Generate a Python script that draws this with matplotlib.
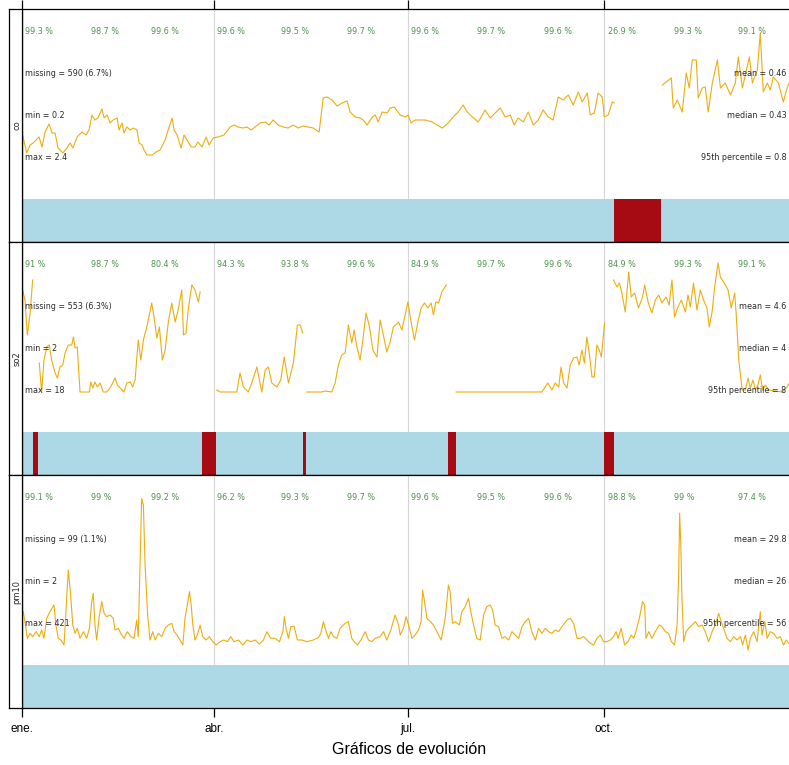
import numpy as np
import pandas as pd
import matplotlib
matplotlib.use('Agg')
import matplotlib.pyplot as plt
import matplotlib.dates as mdates

nan = np.nan

# daily means: (day of year counted from 1 Jan, value)
co_daily = [(0.3, 0.40), (2.2, 0.31), (3.8, 0.35), (5.2, 0.36), (6.6, 0.375), (8.0, 0.39), (9.4, 0.34),
            (10.8, 0.415), (12.7, 0.455), (14.1, 0.41), (15.5, 0.41), (16.9, 0.335), (19.2, 0.31), (21.1, 0.335),
            (22.5, 0.36), (23.9, 0.335), (25.8, 0.39), (28.1, 0.415), (30.0, 0.40), (31.4, 0.425), (32.8, 0.50),
            (34.2, 0.475), (35.6, 0.485), (37.5, 0.53), (38.5, 0.485), (39.9, 0.50), (41.3, 0.46), (42.7, 0.475),
            (44.6, 0.485), (45.5, 0.425), (46.9, 0.46), (47.8, 0.41), (49.2, 0.44), (50.7, 0.425), (52.1, 0.435),
            (53.9, 0.425), (54.9, 0.36), (56.3, 0.35), (57.2, 0.325), (58.6, 0.30), (61.0, 0.30), (62.8, 0.315),
            (64.7, 0.325), (67.1, 0.375), (68.5, 0.425), (70.4, 0.485), (71.3, 0.425), (72.7, 0.40), (74.6, 0.335),
            (76.0, 0.40), (77.4, 0.375), (79.3, 0.34), (81.1, 0.34), (82.5, 0.365), (84.4, 0.34), (86.3, 0.39),
            (87.7, 0.35), (89.6, 0.385), (91.9, 0.39), (94.7, 0.40), (97.6, 0.44), (99.4, 0.45), (101.3, 0.44),
            (103.6, 0.435), (105.5, 0.44), (107.4, 0.425), (109.3, 0.44), (111.6, 0.46), (114.0, 0.465),
            (115.8, 0.45), (117.7, 0.475), (120.1, 0.45), (122.4, 0.44), (124.8, 0.435), (127.1, 0.45),
            (129.4, 0.435), (131.8, 0.445), (134.1, 0.44), (136.5, 0.435), (139.3, 0.415), (141.2, 0.585),
            (143.0, 0.59), (145.4, 0.575), (147.7, 0.545), (150.1, 0.56), (152.4, 0.57), (153.8, 0.515),
            (156.2, 0.49), (158.5, 0.485), (159.9, 0.475), (161.8, 0.45), (164.2, 0.49), (165.6, 0.50),
            (167.0, 0.465), (168.8, 0.515), (171.2, 0.51), (172.6, 0.535), (174.5, 0.54), (176.3, 0.515),
            (177.3, 0.50), (179.6, 0.49), (181.0, 0.50), (182.4, 0.46), (184.3, 0.475), (186.7, 0.475),
            (189.0, 0.475), (192.3, 0.465), (194.6, 0.45), (197.0, 0.435), (199.8, 0.46), (202.1, 0.49),
            (204.5, 0.515), (206.8, 0.55), (208.7, 0.515), (211.1, 0.49), (213.9, 0.465), (217.1, 0.525),
            (219.5, 0.485), (221.8, 0.51), (224.2, 0.535), (226.5, 0.49), (228.9, 0.50), (230.7, 0.45),
            (232.6, 0.485), (235.0, 0.465), (237.3, 0.515), (239.7, 0.45), (242.0, 0.475), (244.3, 0.525),
            (246.7, 0.49), (249.0, 0.475), (251.4, 0.59), (253.7, 0.575), (256.1, 0.60), (258.4, 0.55),
            (260.8, 0.615), (262.6, 0.565), (265.0, 0.61), (266.4, 0.50), (268.3, 0.51), (270.1, 0.61),
            (272.0, 0.59), (273.0, 0.49), (274.8, 0.50), (276.7, 0.565), (277.6, 0.56), (288.0, nan),
            (300.2, 0.65), (304.4, 0.685), (305.3, 0.535), (307.2, 0.575), (309.5, 0.515), (311.4, 0.71),
            (312.8, 0.635), (314.2, 0.775), (316.1, 0.775), (317.0, 0.585), (318.9, 0.635), (320.3, 0.64),
            (321.7, 0.515), (323.6, 0.66), (326.0, 0.775), (327.4, 0.635), (329.7, 0.66), (332.1, 0.60),
            (334.4, 0.66), (335.8, 0.79), (337.7, 0.635), (339.1, 0.70), (341.0, 0.79), (342.4, 0.66),
            (344.7, 0.725), (346.1, 0.91), (347.5, 0.615), (349.4, 0.66), (350.8, 0.625), (352.2, 0.69),
            (354.6, 0.66), (356.9, 0.565), (358.8, 0.64), (359.7, 0.66), (362.5, 0.62), (364.5, 0.66)]

so2_daily = [(0.3, 7.1), (1.4, 6.6), (2.5, 4.85), (3.8, 5.95), (5.0, 7.6), (6.5, nan), (8.1, 3.45), (9.2, 2.0),
             (10.3, 3.6), (11.6, 4.25), (12.8, 4.35), (13.9, 3.6), (15.5, 2.95), (16.6, 2.7), (17.8, 3.25),
             (19.1, 3.35), (20.2, 3.95), (21.7, 4.35), (23.3, 4.35), (24.1, 4.75), (24.9, 4.2), (25.9, 4.25),
             (27.2, 2.0), (28.8, 2.0), (31.6, 2.0), (32.2, 2.5), (33.2, 2.2), (34.2, 2.5), (35.3, 2.25),
             (36.6, 2.45), (38.1, 2.0), (39.7, 2.0), (41.6, 2.25), (43.6, 2.7), (44.7, 2.35), (46.0, 2.2),
             (47.8, 2.0), (49.1, 2.45), (50.7, 2.5), (51.9, 2.25), (53.0, 2.6), (54.5, 4.6), (55.7, 3.6),
             (56.9, 4.6), (58.5, 5.25), (60.8, 6.45), (61.9, 5.75), (63.2, 4.7), (64.4, 5.25), (65.8, 3.6),
             (67.1, 4.1), (68.6, 5.5), (70.2, 6.45), (71.8, 5.5), (73.0, 6.0), (74.9, 7.1), (75.7, 4.85),
             (76.9, 4.95), (78.0, 6.2), (79.6, 7.35), (81.1, 7.1), (82.7, 6.5), (83.5, 7.0), (87.0, nan),
             (91.3, 2.1), (92.9, 2.0), (99.1, 2.0), (100.7, 2.0), (102.2, 2.95), (103.8, 2.25), (106.1, 2.0),
             (107.7, 2.45), (110.1, 3.25), (112.4, 2.0), (114.0, 3.1), (115.5, 3.25), (117.1, 2.45),
             (119.5, 2.25), (121.3, 2.6), (122.9, 3.75), (124.9, 2.45), (127.2, 3.45), (129.1, 5.35),
             (130.4, 5.35), (131.6, 4.95), (132.5, nan), (133.5, 2.0), (140.6, 2.0), (142.1, 2.05), (145.2, 2.0),
             (146.8, 2.45), (148.3, 3.35), (149.9, 3.85), (151.5, 3.95), (153.0, 5.35), (154.6, 4.45),
             (155.7, 5.1), (157.0, 4.25), (158.5, 3.6), (159.8, 4.6), (161.3, 5.95), (162.9, 5.25), (164.5, 4.1),
             (166.4, 3.75), (167.9, 5.6), (169.2, 4.95), (171.0, 4.0), (172.6, 4.5), (174.1, 5.25), (176.5, 5.5),
             (178.1, 5.1), (179.6, 5.85), (180.9, 6.5), (182.4, 5.5), (184.0, 4.6), (185.6, 5.5), (187.1, 6.2),
             (188.7, 6.45), (190.3, 6.2), (191.8, 6.45), (192.9, 5.85), (194.0, 6.5), (195.3, 6.45),
             (196.8, 7.0), (198.9, 7.35), (201.0, nan), (203.5, 2.0), (243.7, 2.0), (246.5, 2.45), (248.4, 2.1),
             (250.0, 2.45), (251.6, 2.25), (252.7, 3.25), (253.9, 2.45), (255.5, 2.2), (257.0, 3.35),
             (258.6, 3.7), (260.2, 3.75), (261.2, 3.35), (262.5, 4.1), (263.6, 3.45), (264.8, 4.75),
             (265.9, 3.95), (267.2, 2.75), (268.3, 2.75), (269.5, 4.35), (270.6, 4.1), (271.6, 3.75),
             (273.1, 5.45), (275.0, nan), (277.3, 7.6), (278.9, 7.25), (280.1, 7.45), (281.2, 6.95), (282.8, 6.0),
             (284.4, 8.0), (285.6, 6.75), (287.2, 6.95), (289.0, 6.2), (290.9, 6.75), (291.9, 7.35), (293.5, 6.5),
             (295.3, 5.95), (296.9, 6.6), (298.5, 6.85), (300.0, 6.45), (301.9, 6.75), (303.4, 6.35),
             (304.7, 7.6), (305.9, 5.75), (307.5, 6.25), (309.1, 6.6), (311.0, 6.0), (312.2, 6.85), (313.3, 6.25),
             (314.8, 7.45), (316.4, 6.1), (318.0, 7.1), (319.5, 6.6), (321.1, 6.2), (322.2, 5.25), (323.5, 6.0),
             (324.7, 7.25), (326.3, 8.45), (327.4, 7.75), (328.9, 7.5), (331.0, 7.1), (332.5, 6.2), (334.1, 6.95),
             (334.9, 5.75), (336.0, 3.6), (337.6, 2.1), (339.1, 2.1), (340.4, 2.7), (341.4, 2.2), (342.7, 2.6),
             (343.8, 2.1), (345.0, 2.35), (346.1, 2.85), (347.2, 2.1), (348.5, 2.35), (350.0, 2.1), (353.2, 2.05),
             (356.3, 2.0), (358.7, 2.25), (359.7, 2.45), (362.0, 2.8), (364.5, 3.0)]

pm10_daily = [(0.6, 64), (1.4, 52), (2.5, 32), (3.8, 38), (5.0, 34), (6.6, 40), (8.1, 34), (9.2, 42), (10.3, 32),
              (11.6, 56), (13.1, 64), (15.0, 72), (15.9, 48), (17.0, 32), (18.2, 30), (19.7, 24), (20.6, 64),
              (21.7, 114), (22.8, 84), (23.8, 48), (24.9, 38), (25.9, 44), (27.2, 32), (28.8, 40), (30.3, 32),
              (31.6, 44), (32.7, 76), (33.4, 86), (34.2, 48), (35.0, 30), (36.1, 56), (37.4, 76), (38.5, 62),
              (39.7, 58), (41.3, 60), (42.8, 56), (43.6, 42), (45.2, 44), (46.3, 38), (47.8, 32), (49.4, 40),
              (51.0, 34), (52.5, 32), (53.8, 54), (54.5, 34), (55.3, 118), (56.1, 200), (56.9, 192), (57.7, 120),
              (58.9, 60), (60.0, 30), (61.3, 40), (62.4, 30), (63.9, 38), (65.5, 34), (67.1, 44), (68.6, 48),
              (70.2, 50), (71.3, 40), (72.6, 36), (74.1, 30), (75.4, 24), (76.4, 56), (77.5, 72), (78.5, 88),
              (79.3, 72), (80.1, 48), (81.1, 30), (82.2, 36), (83.5, 48), (84.7, 34), (86.3, 30), (87.8, 34),
              (89.4, 28), (91.0, 24), (92.9, 28), (94.7, 30), (96.3, 28), (97.9, 34), (99.4, 28), (101.5, 30),
              (103.5, 24), (105.4, 30), (107.3, 28), (109.3, 30), (111.3, 25), (113.2, 30), (114.8, 40),
              (116.6, 32), (118.7, 32), (120.7, 28), (122.3, 40), (123.0, 58), (123.8, 44), (124.9, 32),
              (126.0, 46), (127.6, 46), (129.1, 30), (131.2, 30), (133.5, 28), (136.6, 30), (139.0, 33),
              (140.1, 38), (141.3, 52), (142.6, 40), (143.7, 32), (144.8, 40), (146.0, 34), (147.6, 32),
              (149.1, 44), (151.5, 50), (153.0, 52), (154.6, 32), (155.7, 28), (157.3, 24), (158.9, 30),
              (160.9, 40), (162.4, 30), (164.0, 28), (165.6, 32), (167.9, 34), (169.5, 40), (171.0, 30),
              (172.9, 42), (174.9, 60), (176.5, 48), (177.3, 36), (178.8, 44), (180.1, 58), (181.2, 48),
              (182.8, 32), (184.3, 36), (185.9, 42), (187.1, 52), (187.8, 90), (188.7, 76), (189.8, 56),
              (191.4, 52), (192.9, 48), (194.5, 40), (196.5, 30), (198.4, 56), (199.9, 96), (200.7, 88),
              (201.8, 50), (203.1, 52), (205.0, 48), (206.2, 64), (207.8, 70), (209.3, 80), (210.4, 64),
              (211.7, 48), (213.2, 32), (214.8, 30), (216.4, 60), (217.9, 70), (219.5, 72), (220.6, 66),
              (221.8, 48), (223.4, 46), (225.0, 32), (226.5, 34), (228.1, 30), (229.7, 40), (231.2, 36),
              (232.8, 32), (234.4, 46), (235.9, 52), (237.5, 56), (239.0, 40), (240.6, 30), (242.2, 44),
              (243.7, 38), (245.3, 44), (246.9, 40), (248.4, 38), (250.0, 42), (251.6, 40), (253.1, 46),
              (255.5, 54), (257.0, 56), (258.6, 50), (260.2, 32), (261.7, 32), (263.3, 34), (264.8, 30),
              (266.4, 26), (268.0, 24), (269.5, 32), (271.1, 36), (272.6, 28), (274.2, 28), (275.8, 30),
              (277.3, 34), (278.5, 40), (279.4, 32), (280.9, 44), (282.5, 24), (284.1, 28), (285.6, 36),
              (286.7, 32), (287.8, 40), (289.4, 56), (290.9, 76), (291.9, 72), (292.5, 32), (293.8, 40),
              (295.3, 32), (296.9, 40), (298.8, 48), (300.0, 46), (301.6, 40), (303.1, 38), (304.4, 28),
              (305.9, 24), (307.1, 48), (307.8, 104), (308.3, 182), (308.8, 148), (309.4, 78), (310.2, 28),
              (311.3, 40), (312.5, 44), (314.1, 48), (315.7, 52), (317.2, 46), (318.8, 48), (320.3, 40),
              (321.9, 28), (323.5, 40), (325.0, 48), (326.6, 62), (327.8, 52), (328.9, 44), (330.5, 32),
              (332.1, 28), (333.6, 34), (335.2, 30), (336.8, 34), (337.8, 24), (339.1, 36), (340.4, 18),
              (341.4, 32), (343.0, 40), (344.6, 28), (346.1, 64), (346.9, 36), (348.2, 52), (349.3, 32),
              (350.8, 40), (352.4, 38), (353.9, 32), (355.5, 34), (357.0, 24), (358.2, 30), (359.7, 26),
              (362.0, 34), (364.5, 30)]

# monthly data capture (%)
co_capture = [99.3, 98.7, 99.6, 99.6, 99.5, 99.7, 99.6, 99.7, 99.6, 26.9, 99.3, 99.1]
so2_capture = [91, 98.7, 80.4, 94.3, 93.8, 99.6, 84.9, 99.7, 99.6, 84.9, 99.3, 99.1]
pm10_capture = [99.1, 99, 99.2, 96.2, 99.3, 99.7, 99.6, 99.5, 99.6, 98.8, 99, 97.4]

# missing periods: (first day, last day)
co_missing = [(277.5, 299.6)]
so2_missing = [(5.0, 7.5), (84.4, 91.0), (131.8, 133.0), (199.5, 203.3), (273.0, 277.3)]
pm10_missing = []

variables = ['co', 'so2', 'pm10']
daily = [co_daily, so2_daily, pm10_daily]
capture = [co_capture, so2_capture, pm10_capture]
missing = [co_missing, so2_missing, pm10_missing]
left_stats = [['missing = 590 (6.7%)', 'min = 0.2', 'max = 2.4'],
              ['missing = 553 (6.3%)', 'min = 2', 'max = 18'],
              ['missing = 99 (1.1%)', 'min = 2', 'max = 421']]
right_stats = [['mean = 0.46', 'median = 0.43', '95th percentile = 0.8'],
               ['mean = 4.6', 'median = 4', '95th percentile = 8'],
               ['mean = 29.8', 'median = 26', '95th percentile = 56']]
y_limits = [(-0.135, 1.03), (-2.15, 9.5), (-51.6, 228)]

tick_labels = ['ene.', 'abr.', 'jul.', 'oct.']

start = pd.Timestamp('2019-01-01')
end = start + pd.Timedelta(days=365)
month_starts = pd.date_range('2019-01-01', periods=12, freq='MS')
tick_dates = month_starts[[0, 3, 6, 9]]

W, H = 789, 765
fig = plt.figure(figsize=(W / 100, H / 100), dpi=100)

panel_tops = [9, 242, 475]
panel_h = 233
x0, x1 = 22, 800.6
bar_top = 0.183

line_col = '#EEAD0E'
data_col = '#ADD8E6'
mis_col = '#A60A12'
pct_col = '#4A924A'
txt_col = '#2a2a2a'

for i, var in enumerate(variables):
    top = panel_tops[i]
    ax = fig.add_axes([x0 / W, 1 - (top + panel_h) / H, (x1 - x0) / W, panel_h / H])
    strip = fig.add_axes([9 / W, 1 - (top + panel_h) / H, 13 / W, panel_h / H])

    ax.set_xlim(start, end)
    ax.set_ylim(*y_limits[i])

    # grid
    for d in tick_dates[1:]:
        ax.axvline(d, ymin=bar_top, ymax=1, color='#d6d6d6', lw=0.8, zorder=0)

    # data availability bar
    ax.axvspan(start, end, ymin=0, ymax=bar_top, color=data_col, lw=0, zorder=1)
    for a, b in missing[i]:
        ax.axvspan(start + pd.Timedelta(days=a), start + pd.Timedelta(days=b),
                   ymin=0, ymax=bar_top, color=mis_col, lw=0, zorder=1.5)

    days = [p[0] for p in daily[i]]
    vals = [p[1] for p in daily[i]]
    dates = start + pd.to_timedelta(days, unit='D')
    ax.plot(dates, vals, color=line_col, lw=0.8, zorder=2)

    # monthly capture
    trans = ax.get_xaxis_transform()
    for m, p in zip(month_starts, capture[i]):
        ax.text(mdates.date2num(m + pd.Timedelta(days=1.5)), 0.905, f'{p:g} %', transform=trans,
                ha='left', va='center', fontsize=5.8, color=pct_col, zorder=3)

    for t, yy in zip(left_stats[i], [0.725, 0.541, 0.361]):
        ax.text(0.004, yy, t, transform=ax.transAxes, ha='left', va='center',
                fontsize=5.8, color=txt_col, zorder=3)
    # right-hand stats, kept inside the visible figure
    for t, yy in zip(right_stats[i], [0.725, 0.541, 0.361]):
        ax.text(0.982, yy, t, transform=ax.transAxes, ha='right', va='center',
                fontsize=5.8, color=txt_col, zorder=3)

    for s in ax.spines.values():
        s.set_linewidth(0.9)
    ax.set_yticks([])
    ax.set_xticks(tick_dates)
    if i == 0:
        ax.tick_params(axis='x', which='both', bottom=False, top=True, labelbottom=False,
                       direction='out', length=6.5, width=0.9)
    elif i == len(variables) - 1:
        ax.set_xticklabels(tick_labels)
        ax.tick_params(axis='x', which='both', bottom=True, top=False, direction='out',
                       length=6.5, width=0.9, labelsize=8.5, pad=4)
        for lab in ax.get_xticklabels():
            lab.set_family('Liberation Sans')
    else:
        ax.tick_params(axis='x', which='both', bottom=False, top=False, labelbottom=False)

    strip.set_xticks([])
    strip.set_yticks([])
    for s in strip.spines.values():
        s.set_linewidth(0.9)
    strip.text(0.6, 0.5, var, rotation=90, ha='center', va='center', fontsize=6,
               color=txt_col, transform=strip.transAxes)

fig.text(409.5 / W, 1 - 750 / H, 'Gráficos de evolución', ha='center', va='center',
         fontsize=11.5, family='Liberation Sans')

fig.savefig('out.png', dpi=100)
